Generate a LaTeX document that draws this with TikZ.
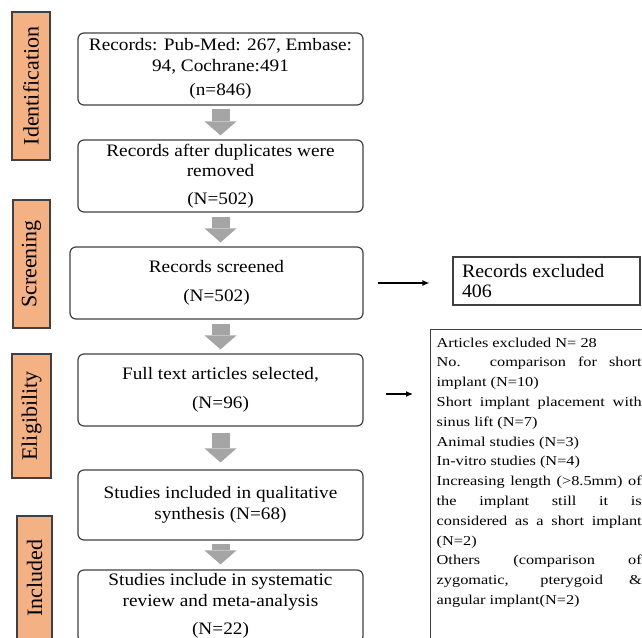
\documentclass[tikz,border=0pt]{standalone}
\usepackage{fontspec}
\setmainfont{Liberation Serif}
\newfontfamily\boxfont[FakeStretch=1.1]{Liberation Serif}
\newfontfamily\exclfont[FakeStretch=1.05]{Liberation Serif}
\newfontfamily\listfont[FakeStretch=1.2]{Liberation Serif}
\usetikzlibrary{arrows.meta}
\definecolor{boxgray}{HTML}{404040}
\definecolor{arrowgray}{HTML}{A5A5A5}
\definecolor{stageorange}{HTML}{F4B183}
\newcommand\spreadline[1]{\makebox[\linewidth][s]{#1}}
\tikzset{
	>={Latex[length=7pt,width=6pt]},
	flowbox/.style={draw=boxgray, line width=1.2pt, rounded corners=6pt,
		minimum width=285pt, minimum height=72pt, inner sep=0pt, align=center,
		font=\boxfont\fontsize{17.5}{20.5}\selectfont},
	stage/.style={draw=boxgray, fill=stageorange, line width=1.2pt, rotate=90,
		inner sep=0pt, font=\fontsize{22}{24}\selectfont},
	downarrow/.style={arrowgray, line width=18pt,
		-{Triangle[width=32pt,length=14pt,line width=0pt]}},
	sidearrow/.style={->, line width=1.2pt}
}

\begin{document}
\begin{tikzpicture}[x=1pt,y=-1pt]
\useasboundingbox (0,0) rectangle (642,637);
\clip (0,0) rectangle (642,637);

% stage labels
\node[stage, minimum width=148pt, minimum height=38pt] (identLab) at (31,86) {Identification};
\node[stage, minimum width=128pt, minimum height=37pt] (screenLab) at (31.5,264) {Screening};
\node[stage, minimum width=124pt, minimum height=39pt] (eligLab) at (31.5,416) {Eligibility};
\node[stage, minimum width=124pt, minimum height=35pt] (inclLab) at (34.5,578) {Included};

% flow boxes
\node[flowbox] (records) at (220.5,69) {Records: Pub-Med: 267, Embase:\\ 94, Cochrane:491\\[4pt] (n=846)};
\node[flowbox] (nodup) at (220.5,176) {Records after duplicates were\\ removed\\[7pt] (N=502)};
\node[flowbox, minimum width=293pt] (screened) at (216.5,283) {Records screened\\[8pt] (N=502)};
\node[flowbox] (fulltext) at (220.5,390) {Full text articles selected,\\[8pt] (N=96)};
\node[flowbox, minimum height=70pt] (qual) at (220.5,505) {Studies included in qualitative\\ synthesis (N=68)};
\node[flowbox] (meta) at (220.5,606) {Studies include in systematic\\ review and meta-analysis\\[8pt] (N=22)};

% excluded records
\node[draw=boxgray, line width=1.2pt, inner xsep=9pt, inner ysep=3pt,
	font=\exclfont\fontsize{19}{20}\selectfont] (excl) at (546.5,281)
	{\parbox[c][42pt][c]{169pt}{\raggedright Records excluded\\ 406}};

% excluded articles
\node[draw=boxgray, line width=1.4pt, anchor=north west, inner xsep=6pt, inner ysep=8pt,
	font=\listfont\fontsize{13.6}{19.8}\selectfont] (reasons) at (430,329)
	{\parbox[t][330pt][t]{205pt}{\raggedright
	Articles excluded N= 28\\
	\spreadline{No. comparison for short}\\
	implant (N=10)\\
	\spreadline{Short implant placement with}\\
	sinus lift (N=7)\\
	Animal studies (N=3)\\
	In-vitro studies (N=4)\\
	\spreadline{Increasing length (>8.5mm) of}\\
	\spreadline{the implant still it is}\\
	\spreadline{considered as a short implant}\\
	(N=2)\\
	\spreadline{Others (comparison of}\\
	\spreadline{zygomatic, pterygoid \&}\\
	angular implant(N=2)}};

% gray arrows
\draw[downarrow, shorten <=3pt, shorten >=4pt] (records.south) -- (nodup.north);
\draw[downarrow, shorten <=4pt, shorten >=4pt] (nodup.south) -- (nodup.south |- screened.north);
\draw[downarrow, shorten <=4pt, shorten >=4pt] (fulltext.north |- screened.south) -- (fulltext.north);
\draw[downarrow, shorten <=6pt, shorten >=7pt] (fulltext.south) -- (qual.north);
\draw[downarrow, shorten <=3pt, shorten >=5pt] (qual.south) -- (meta.north);

% side arrows
\draw[sidearrow, shorten <=14pt, shorten >=23pt] (screened.east) -- (screened.east -| excl.west);
\draw[sidearrow, shorten <=22pt, shorten >=17pt] ([yshift=-4pt]fulltext.east) -- ([yshift=-4pt]fulltext.east -| reasons.west);

\end{tikzpicture}
\end{document}
